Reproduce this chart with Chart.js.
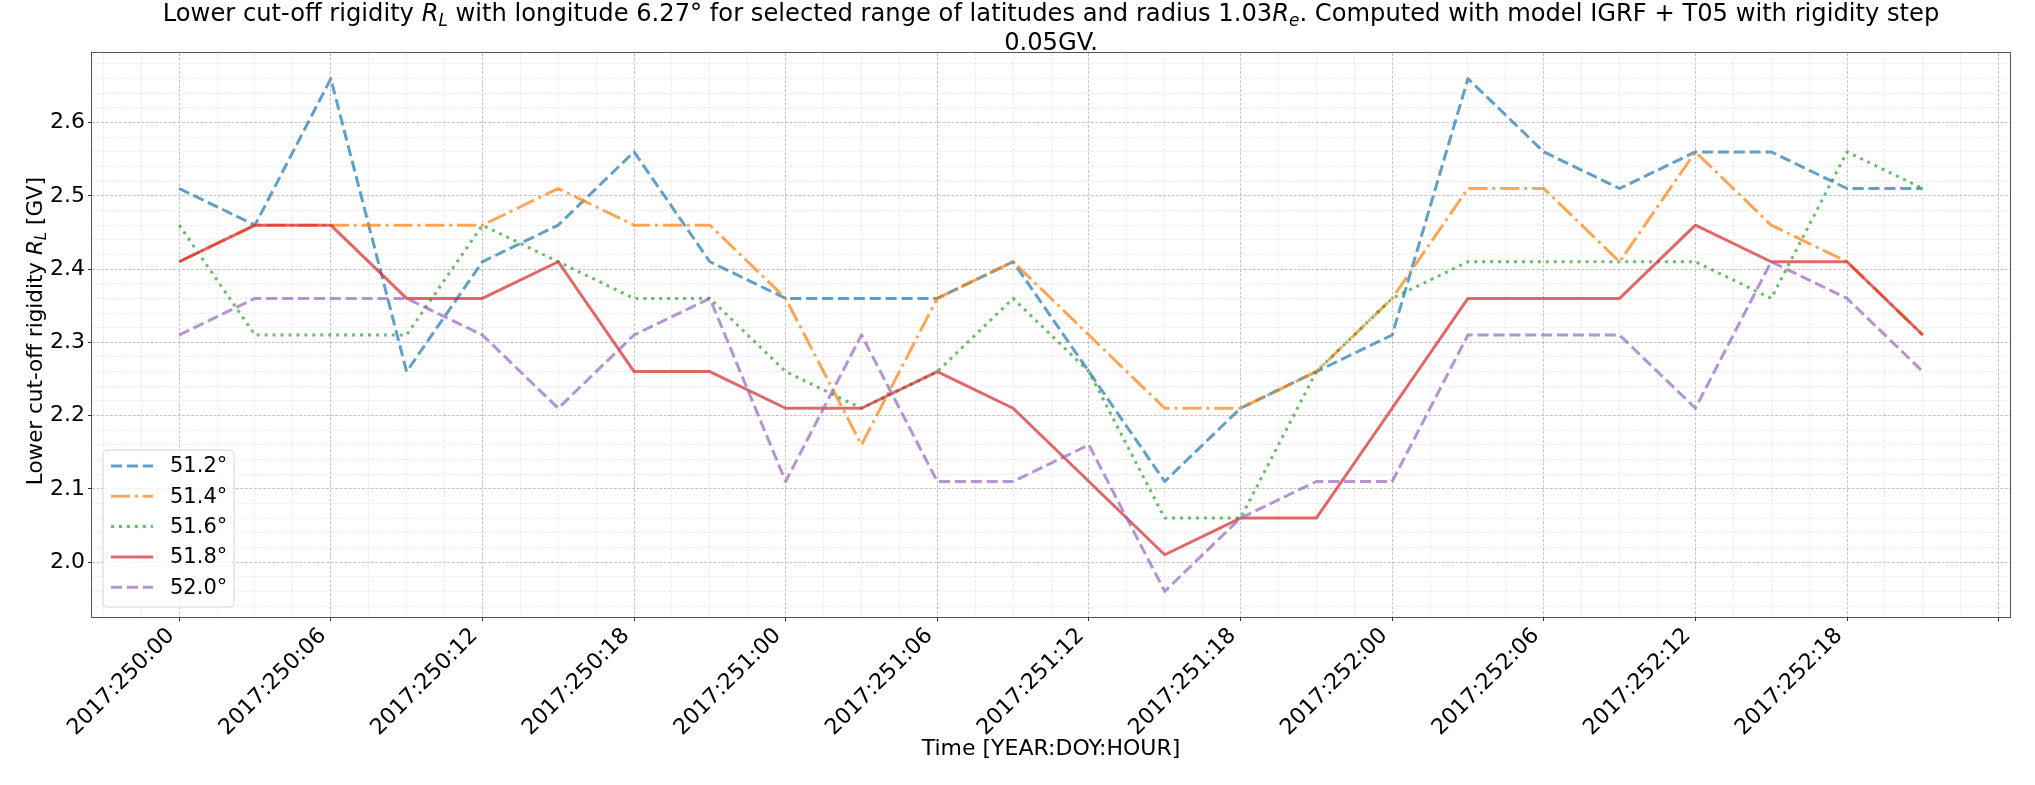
<!DOCTYPE html>
<html>
<head>
<meta charset="utf-8">
<script src="https://cdn.jsdelivr.net/npm/chart.js@4.4.1/dist/chart.umd.min.js"></script>
<style>
html,body{margin:0;padding:0;background:#fff;}
#wrap{width:2035px;height:785px;position:relative;}
</style>
</head>
<body>
<div id="wrap"><canvas id="c" width="2035" height="785"></canvas></div>
<script>
// ---------------- data ----------------
const times = ['2017:250:00','2017:250:03','2017:250:06','2017:250:09','2017:250:12','2017:250:15',
               '2017:250:18','2017:250:21','2017:251:00','2017:251:03','2017:251:06','2017:251:09',
               '2017:251:12','2017:251:15','2017:251:18','2017:251:21','2017:252:00','2017:252:03',
               '2017:252:06','2017:252:09','2017:252:12','2017:252:15','2017:252:18','2017:252:21'];
const lat512 = [2.51,2.46,2.66,2.26,2.41,2.46,2.56,2.41,2.36,2.36,2.36,2.41,2.26,2.11,2.21,2.26,2.31,2.66,2.56,2.51,2.56,2.56,2.51,2.51];
const lat514 = [2.41,2.46,2.46,2.46,2.46,2.51,2.46,2.46,2.36,2.16,2.36,2.41,2.31,2.21,2.21,2.26,2.36,2.51,2.51,2.41,2.56,2.46,2.41,2.31];
const lat516 = [2.46,2.31,2.31,2.31,2.46,2.41,2.36,2.36,2.26,2.21,2.26,2.36,2.26,2.06,2.06,2.26,2.36,2.41,2.41,2.41,2.41,2.36,2.56,2.51];
const lat518 = [2.41,2.46,2.46,2.36,2.36,2.41,2.26,2.26,2.21,2.21,2.26,2.21,2.11,2.01,2.06,2.06,2.21,2.36,2.36,2.36,2.46,2.41,2.41,2.31];
const lat520 = [2.31,2.36,2.36,2.36,2.31,2.21,2.31,2.36,2.11,2.31,2.11,2.11,2.16,1.96,2.06,2.11,2.11,2.31,2.31,2.31,2.21,2.41,2.36,2.26];
const seriesLabels = ['51.2°','51.4°','51.6°','51.8°','52.0°'];
const xTickLabels = ['2017:250:00','2017:250:06','2017:250:12','2017:250:18','2017:251:00','2017:251:06',
                     '2017:251:12','2017:251:18','2017:252:00','2017:252:06','2017:252:12','2017:252:18',''];
const yTickLabels = ['2.0','2.1','2.2','2.3','2.4','2.5','2.6'];

// ---------------- helpers ----------------
const FONT = "'DejaVu Sans', sans-serif";
const baseDoy = Number(times[0].split(':')[1]);
function toHours(s){ const p = s.split(':').map(Number); return (p[1]-baseDoy)*24 + p[2]; }
const xs = times.map(toHours);
const allVals = [lat512,lat514,lat516,lat518,lat520].flat();
const xSpan = xs[xs.length-1]-xs[0];
const xMin = xs[0]-0.05*xSpan, xMax = xs[xs.length-1]+0.05*xSpan;
const vMin = Math.min(...allVals), vMax = Math.max(...allVals);
const yMin = vMin-0.05*(vMax-vMin), yMax = vMax+0.05*(vMax-vMin);

// x ticks: majors every 6 h (labelled), minors every 1.5 h
const xMajor = xTickLabels.map((l,i)=>i*6);
const xTicks = [];
for (let k=-2; k<=48; k++){
  const v = k*1.5;
  if (v < xMin || v > xMax) continue;
  const mi = xMajor.indexOf(v);
  xTicks.push({value:v, major: mi>=0, lab: mi>=0 ? xTickLabels[mi] : ''});
}
const yMajor = yTickLabels.map(Number);
const yTicks = [];
for (let k=90; k<=140; k++){
  const v = Math.round(k*0.02*100)/100;
  if (v < yMin || v > yMax) continue;
  const mi = yMajor.findIndex(m=>Math.abs(m-v)<1e-9);
  yTicks.push({value:v, major: mi>=0, lab: mi>=0 ? yTickLabels[mi] : ''});
}

const colors = ['rgba(31,119,180,0.7)','rgba(255,127,14,0.7)','rgba(44,160,44,0.7)','rgba(214,39,40,0.7)','rgba(148,103,189,0.7)'];
const dashes = [[11.1,4.8],[19.2,4.8,3,4.8],[3,4.95],[],[11.1,4.8]];
const seriesData = [lat512,lat514,lat516,lat518,lat520];

const datasets = seriesData.map((arr,i)=>({
  label: seriesLabels[i],
  data: arr.map((v,j)=>({x: xs[j], y: v})),
  borderColor: colors[i],
  backgroundColor: colors[i],
  borderWidth: 3,
  borderDash: dashes[i],
  borderCapStyle: 'butt',
  borderJoinStyle: 'round',
  pointRadius: 0,
  pointHoverRadius: 0,
  tension: 0,
  fill: false,
  order: seriesData.length - i
}));

function drawSegs(ctx, segs, size, x, y, align){
  const f = s => (s.it ? 'italic ' : '') + (s.sub ? size*0.7 : size) + 'px ' + FONT;
  let total = 0;
  segs.forEach(s=>{ ctx.font = f(s); s.w = ctx.measureText(s.t).width; total += s.w; });
  let cx = align === 'center' ? x - total/2 : x;
  ctx.textAlign = 'left';
  ctx.textBaseline = 'alphabetic';
  segs.forEach(s=>{ ctx.font = f(s); ctx.fillText(s.t, cx, y + (s.sub ? size*0.2 : 0)); cx += s.w; });
}

const decor = {
  id: 'decor',
  afterDraw(chart){
    const ctx = chart.ctx, a = chart.chartArea;
    ctx.save();
    // frame
    ctx.strokeStyle = '#555';
    ctx.lineWidth = 1;
    ctx.setLineDash([]);
    ctx.strokeRect(Math.round(a.left)-0.5, Math.round(a.top)-0.5, Math.round(a.right-a.left)+1, Math.round(a.bottom-a.top)+1);
    // title
    ctx.fillStyle = '#000';
    const cx = (a.left + a.right)/2;
    drawSegs(ctx, [
      {t:'Lower cut-off rigidity '},{t:'R',it:true},{t:'L',it:true,sub:true},
      {t:' with longitude 6.27° for selected range of latitudes and radius 1.03'},
      {t:'R',it:true},{t:'e',it:true,sub:true},
      {t:'. Computed with model IGRF + T05 with rigidity step'}], 24.2, cx, 21, 'center');
    drawSegs(ctx, [{t:'0.05GV.'}], 24.2, cx, 50, 'center');
    // y label
    ctx.save();
    ctx.translate(42, (a.top+a.bottom)/2 - 4);
    ctx.rotate(-Math.PI/2);
    drawSegs(ctx, [{t:'Lower cut-off rigidity '},{t:'R',it:true},{t:'L',it:true,sub:true},{t:' [GV]'}], 21.5, 0, 0, 'center');
    ctx.restore();
    // legend
    const lx = 103, ly = 450, lw = 131, lh = 157, r = 5;
    ctx.beginPath();
    ctx.moveTo(lx+r, ly); ctx.lineTo(lx+lw-r, ly); ctx.quadraticCurveTo(lx+lw, ly, lx+lw, ly+r);
    ctx.lineTo(lx+lw, ly+lh-r); ctx.quadraticCurveTo(lx+lw, ly+lh, lx+lw-r, ly+lh);
    ctx.lineTo(lx+r, ly+lh); ctx.quadraticCurveTo(lx, ly+lh, lx, ly+lh-r);
    ctx.lineTo(lx, ly+r); ctx.quadraticCurveTo(lx, ly, lx+r, ly);
    ctx.closePath();
    ctx.fillStyle = 'rgba(255,255,255,0.8)';
    ctx.fill();
    ctx.strokeStyle = '#d5d5d5';
    ctx.lineWidth = 1;
    ctx.stroke();
    chart.data.datasets.forEach((ds,i)=>{
      const yy = 466 + i*30.3;
      ctx.beginPath();
      ctx.strokeStyle = ds.borderColor;
      ctx.lineWidth = ds.borderWidth;
      ctx.lineCap = 'butt';
      ctx.setLineDash(ds.borderDash);
      ctx.moveTo(111, yy); ctx.lineTo(153, yy);
      ctx.stroke();
      ctx.setLineDash([]);
      ctx.fillStyle = '#000';
      ctx.font = '21px ' + FONT;
      ctx.textAlign = 'left';
      ctx.textBaseline = 'middle';
      ctx.fillText(ds.label, 170, yy + 1);
    });
    ctx.restore();
  }
};

const gridColor = c => (c.tick && c.tick.major) ? '#c4c4c4' : '#ececec';

new Chart(document.getElementById('c'), {
  type: 'line',
  data: { datasets },
  options: {
    responsive: false,
    animation: false,
    devicePixelRatio: 1,
    layout: { padding: { top: 53, right: 25, left: 0, bottom: 0 } },
    plugins: { legend: { display: false }, title: { display: false }, tooltip: { enabled: false } },
    scales: {
      x: {
        type: 'linear', min: xMin, max: xMax,
        afterBuildTicks: s => { s.ticks = xTicks.map(t=>({value:t.value, major:t.major})); },
        afterFit: s => { s.height = 168; },
        ticks: {
          autoSkip: false, minRotation: 45, maxRotation: 45,
          font: { family: FONT, size: 22 }, color: '#000', padding: 2, labelOffset: -8,
          callback: (v) => { const t = xTicks.find(t=>Math.abs(t.value-v)<1e-9); return t ? t.lab : ''; }
        },
        grid: { color: gridColor, lineWidth: 1, tickLength: 4,
                tickColor: c => (c.tick && c.tick.major) ? '#333' : 'rgba(0,0,0,0)' },
        border: { display: false, dash: [3,1.5] },
        title: { display: true, text: 'Time [YEAR:DOY:HOUR]', color: '#000',
                 font: { family: FONT, size: 22, lineHeight: 1.2 }, padding: { top: 0, bottom: 23 } }
      },
      y: {
        type: 'linear', min: yMin, max: yMax,
        afterBuildTicks: s => { s.ticks = yTicks.map(t=>({value:t.value, major:t.major})); },
        afterFit: s => { s.width = 92; },
        ticks: {
          autoSkip: false, font: { family: FONT, size: 22 }, color: '#000', padding: 3,
          callback: (v) => { const t = yTicks.find(t=>Math.abs(t.value-v)<1e-9); return t ? t.lab : ''; }
        },
        grid: { color: gridColor, lineWidth: 1, tickLength: 4,
                tickColor: c => (c.tick && c.tick.major) ? '#333' : 'rgba(0,0,0,0)' },
        border: { display: false, dash: [3,1.5] }
      }
    }
  },
  plugins: [decor]
});
</script>
</body>
</html>
